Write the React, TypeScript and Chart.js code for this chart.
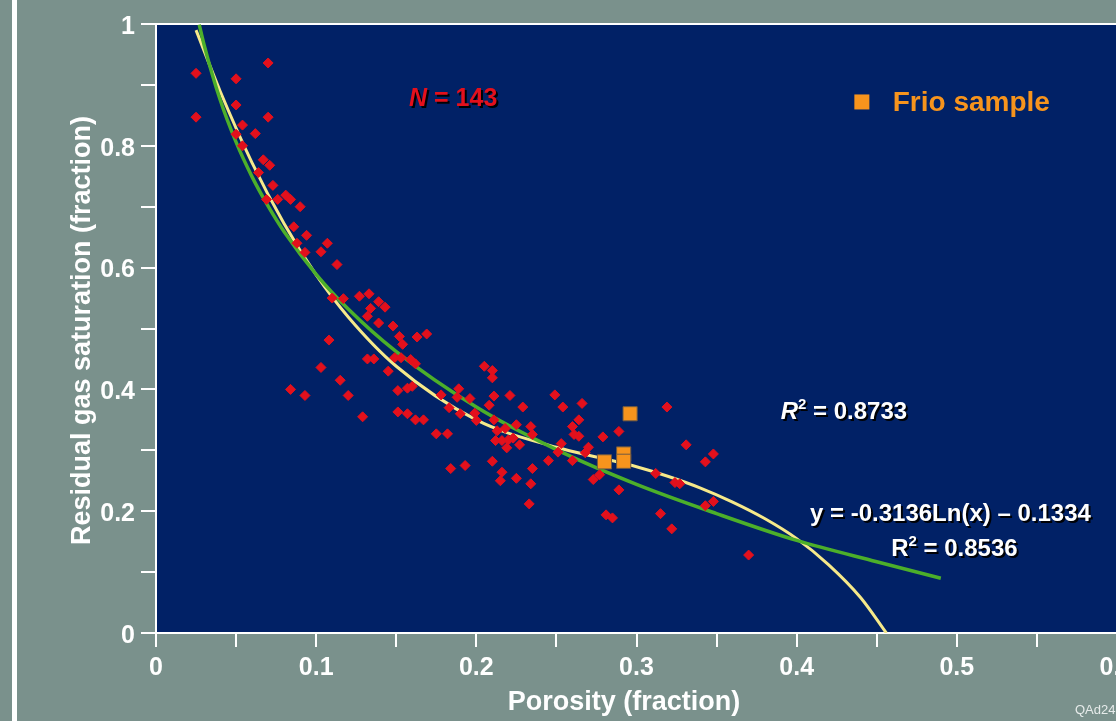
import React, { useEffect, useRef } from "react";
import { Chart, registerables } from "chart.js";

Chart.register(...registerables);

// Core-plug measurements (red diamonds)
const porosity = [
  0.025, 0.025, 0.070, 0.050, 0.050, 0.070, 0.054, 0.050, 0.062, 0.054,
  0.067, 0.071, 0.064, 0.073, 0.069, 0.076, 0.081, 0.084, 0.090, 0.086,
  0.094, 0.088, 0.093, 0.107, 0.103, 0.113, 0.110, 0.117, 0.127, 0.133,
  0.139, 0.143, 0.134, 0.132, 0.139, 0.148, 0.152, 0.154, 0.163, 0.169,
  0.108, 0.132, 0.136, 0.149, 0.153, 0.159, 0.162, 0.103, 0.145, 0.115,
  0.151, 0.157, 0.160, 0.084, 0.093, 0.120, 0.178, 0.151, 0.157, 0.162,
  0.167, 0.129, 0.183, 0.205, 0.210, 0.210, 0.189, 0.188, 0.196, 0.211,
  0.221, 0.229, 0.190, 0.199, 0.200, 0.208, 0.211, 0.225, 0.234, 0.235,
  0.213, 0.218, 0.212, 0.216, 0.220, 0.223, 0.219, 0.227, 0.175, 0.182,
  0.210, 0.184, 0.193, 0.216, 0.215, 0.225, 0.235, 0.234, 0.245, 0.233,
  0.249, 0.254, 0.266, 0.264, 0.260, 0.261, 0.264, 0.289, 0.279, 0.253,
  0.270, 0.251, 0.268, 0.260, 0.273, 0.277, 0.289, 0.281, 0.285, 0.319,
  0.331, 0.343, 0.348, 0.343, 0.348, 0.312, 0.324, 0.327, 0.315, 0.322, 0.370,
];
const gasSaturation = [
  0.919, 0.847, 0.936, 0.910, 0.867, 0.847, 0.834, 0.819, 0.820, 0.800,
  0.777, 0.768, 0.756, 0.735, 0.712, 0.712, 0.719, 0.712, 0.700, 0.667,
  0.653, 0.640, 0.625, 0.640, 0.626, 0.605, 0.550, 0.549, 0.553, 0.557,
  0.544, 0.535, 0.533, 0.520, 0.509, 0.504, 0.487, 0.474, 0.486, 0.491,
  0.481, 0.450, 0.450, 0.452, 0.452, 0.449, 0.442, 0.436, 0.430, 0.415,
  0.398, 0.402, 0.405, 0.400, 0.390, 0.390, 0.391, 0.363, 0.360, 0.350,
  0.350, 0.355, 0.370, 0.438, 0.431, 0.419, 0.401, 0.387, 0.385, 0.389,
  0.390, 0.371, 0.360, 0.361, 0.349, 0.374, 0.350, 0.342, 0.339, 0.326,
  0.332, 0.336, 0.316, 0.316, 0.317, 0.320, 0.304, 0.309, 0.327, 0.327,
  0.282, 0.270, 0.275, 0.264, 0.250, 0.254, 0.270, 0.245, 0.283, 0.212,
  0.391, 0.371, 0.377, 0.350, 0.339, 0.326, 0.323, 0.331, 0.322, 0.311,
  0.305, 0.297, 0.296, 0.283, 0.252, 0.260, 0.235, 0.194, 0.189, 0.371,
  0.309, 0.281, 0.294, 0.209, 0.216, 0.262, 0.247, 0.245, 0.196, 0.171, 0.128,
];

// Frio sample (orange squares)
const frioPorosity = [0.280, 0.292, 0.292, 0.296];
const frioSaturation = [0.281, 0.294, 0.282, 0.360];

// Log trend line (green), y = -0.3136 Ln(x) - 0.1334
const logFitX = [0.027, 0.03, 0.04, 0.05, 0.06, 0.07, 0.08, 0.1, 0.12, 0.15, 0.2, 0.25, 0.3, 0.35, 0.4, 0.45, 0.49];
const logFitY = [0.999, 0.966, 0.876, 0.806, 0.749, 0.701, 0.659, 0.589, 0.532, 0.462, 0.371, 0.301, 0.244, 0.196, 0.152, 0.117, 0.090];

// Polynomial trend line (yellow), R2 = 0.8733
const polyFitX = [0.025, 0.04, 0.06, 0.08, 0.1, 0.12, 0.15, 0.2, 0.25, 0.28, 0.3, 0.32, 0.34, 0.36, 0.38, 0.4, 0.42, 0.44, 0.456];
const polyFitY = [0.99, 0.890, 0.772, 0.672, 0.588, 0.519, 0.438, 0.350, 0.305, 0.286, 0.273, 0.257, 0.238, 0.215, 0.188, 0.155, 0.112, 0.058, 0.0];

const xTickLabels = ["0", "0.1", "0.2", "0.3", "0.4", "0.5", "0.6"];
const yTickLabels = ["0", "0.2", "0.4", "0.6", "0.8", "1"];

const xTitle = "Porosity (fraction)";
const yTitle = "Residual gas saturation (fraction)";
const legendLabel = "Frio sample";
const sampleCount = "143";
const polyR2 = "0.8733";
const logEquation = "y = -0.3136Ln(x) \u2013 0.1334";
const logR2 = "0.8536";
const figureId = "QAd2456";

const GRAY = "#7a918c";
const NAVY = "#012166";
const RED = "#e3101c";
const ORANGE = "#f7941d";
const FONT = "'Liberation Sans', Arial, sans-serif";

type Part = { text: string; font: string; dy?: number };

function drawParts(
  ctx: CanvasRenderingContext2D,
  parts: Part[],
  x: number,
  y: number,
  align: "left" | "center",
  color: string,
  shadow: boolean
) {
  ctx.save();
  ctx.textBaseline = "alphabetic";
  ctx.textAlign = "left";
  let total = 0;
  const widths = parts.map((p) => {
    ctx.font = p.font;
    const w = ctx.measureText(p.text).width;
    total += w;
    return w;
  });
  let cx = align === "center" ? x - total / 2 : x;
  parts.forEach((p, i) => {
    ctx.font = p.font;
    if (shadow) {
      ctx.fillStyle = "rgba(0,0,0,0.95)";
      ctx.fillText(p.text, cx + 2, y + (p.dy || 0) + 2);
    }
    ctx.fillStyle = color;
    ctx.fillText(p.text, cx, y + (p.dy || 0));
    cx += widths[i];
  });
  ctx.restore();
}

const decorPlugin = {
  id: "decor",
  beforeDraw(chart: any) {
    const { ctx, chartArea: a } = chart;
    ctx.save();
    ctx.fillStyle = GRAY;
    ctx.fillRect(0, 0, chart.width, chart.height);
    ctx.fillStyle = "#ffffff";
    ctx.fillRect(12, 0, 5, chart.height);
    ctx.fillStyle = NAVY;
    ctx.fillRect(a.left, a.top, a.right - a.left, a.bottom - a.top);
    ctx.restore();
  },
  beforeDatasetsDraw(chart: any) {
    const { ctx, chartArea: a } = chart;
    ctx.save();
    ctx.strokeStyle = "#ffffff";
    ctx.lineWidth = 2;
    ctx.beginPath();
    ctx.moveTo(a.left - 1, a.top);
    ctx.lineTo(a.right, a.top);
    ctx.stroke();
    ctx.restore();
  },
  afterDraw(chart: any) {
    const { ctx, chartArea: a } = chart;
    const xs = chart.scales.x;
    const ys = chart.scales.y;
    const px = (v: number) => xs.getPixelForValue(v);
    const py = (v: number) => ys.getPixelForValue(v);

    // axis titles
    ctx.save();
    ctx.fillStyle = "#ffffff";
    ctx.font = `bold 27px ${FONT}`;
    ctx.textAlign = "center";
    ctx.textBaseline = "middle";
    ctx.fillText(xTitle, a.left + 468, 703);
    ctx.translate(83, (a.top + a.bottom) / 2 + 2);
    ctx.rotate(-Math.PI / 2);
    ctx.fillText(yTitle, 0, 0);
    ctx.restore();

    // N = 143
    drawParts(
      ctx,
      [
        { text: "N", font: `italic bold 25px ${FONT}` },
        { text: " = " + sampleCount, font: `bold 25px ${FONT}` },
      ],
      px(0.158),
      py(0.8656),
      "left",
      RED,
      true
    );

    // Legend
    ctx.save();
    ctx.fillStyle = ORANGE;
    const lx = px(0.4407);
    const ly = py(0.872);
    ctx.fillRect(lx - 7.5, ly - 7.5, 15, 15);
    ctx.restore();
    drawParts(ctx, [{ text: legendLabel, font: `bold 28px ${FONT}` }], px(0.46), py(0.8574), "left", ORANGE, false);

    // R2 of polynomial
    drawParts(
      ctx,
      [
        { text: "R", font: `italic bold 24px ${FONT}` },
        { text: "2", font: `bold 15px ${FONT}`, dy: -10 },
        { text: " = " + polyR2, font: `bold 24px ${FONT}` },
      ],
      px(0.39),
      py(0.3515),
      "left",
      "#ffffff",
      true
    );

    // log equation
    drawParts(ctx, [{ text: logEquation, font: `bold 24px ${FONT}` }], px(0.496), py(0.1831), "center", "#ffffff", true);
    drawParts(
      ctx,
      [
        { text: "R", font: `bold 24px ${FONT}` },
        { text: "2", font: `bold 15px ${FONT}`, dy: -10 },
        { text: " = " + logR2, font: `bold 24px ${FONT}` },
      ],
      px(0.4985),
      py(0.1266),
      "center",
      "#ffffff",
      true
    );

    // figure id
    ctx.save();
    ctx.fillStyle = "#e6ebea";
    ctx.font = `13px ${FONT}`;
    ctx.textAlign = "left";
    ctx.textBaseline = "alphabetic";
    ctx.fillText(figureId, 1075, 714);
    ctx.restore();
  },
};

export default function App() {
  const canvasRef = useRef<HTMLCanvasElement | null>(null);

  useEffect(() => {
    const canvas = canvasRef.current;
    if (!canvas) return;

    const scatterData = porosity.map((x, i) => ({ x, y: gasSaturation[i] }));
    const frioData = frioPorosity.map((x, i) => ({ x, y: frioSaturation[i] }));
    const logData = logFitX.map((x, i) => ({ x, y: logFitY[i] }));
    const polyData = polyFitX.map((x, i) => ({ x, y: polyFitY[i] }));

    const tickFont = { family: FONT, weight: "bold" as const, size: 25 };

    const chart = new Chart(canvas, {
      type: "scatter",
      data: {
        datasets: [
          {
            label: "Frio sample",
            data: frioData,
            pointStyle: "rect",
            pointRadius: 10,
            pointBackgroundColor: ORANGE,
            pointBorderColor: "#6f5a44",
            pointBorderWidth: 1,
            order: 0,
          },
          {
            label: "Samples",
            data: scatterData,
            pointStyle: "rectRot",
            pointRadius: 5,
            pointBackgroundColor: RED,
            pointBorderColor: RED,
            pointBorderWidth: 1,
            order: 1,
          },
          {
            label: "Log fit",
            data: logData,
            showLine: true,
            pointRadius: 0,
            borderColor: "#4caf2a",
            borderWidth: 3.5,
            cubicInterpolationMode: "monotone",
            order: 2,
          },
          {
            label: "Polynomial fit",
            data: polyData,
            showLine: true,
            pointRadius: 0,
            borderColor: "#f6e98a",
            borderWidth: 3,
            cubicInterpolationMode: "monotone",
            order: 3,
          },
        ],
      },
      options: {
        responsive: false,
        animation: false,
        devicePixelRatio: 1,
        layout: { padding: { left: 0, right: 43, top: 24, bottom: 0 } },
        plugins: {
          legend: { display: false },
          tooltip: { enabled: false },
        },
        scales: {
          x: {
            type: "linear",
            min: 0,
            max: 0.6,
            afterFit: (scale: any) => {
              scale.height = 88;
            },
            ticks: {
              stepSize: 0.05,
              autoSkip: false,
              maxRotation: 0,
              color: "#ffffff",
              font: tickFont,
              padding: 6,
              callback: (v: any) => {
                const k = Math.round(Number(v) * 100);
                return k % 10 === 0 ? xTickLabels[k / 10] : "";
              },
            },
            grid: {
              drawOnChartArea: false,
              drawTicks: true,
              tickLength: 14,
              color: "#ffffff",
              lineWidth: 2,
            },
            border: { display: true, color: "#ffffff", width: 2 },
          },
          y: {
            type: "linear",
            min: 0,
            max: 1,
            afterFit: (scale: any) => {
              scale.width = 156;
            },
            ticks: {
              stepSize: 0.1,
              autoSkip: false,
              color: "#ffffff",
              font: tickFont,
              padding: 6,
              labelOffset: 3,
              callback: (v: any) => {
                const k = Math.round(Number(v) * 10);
                return k % 2 === 0 ? yTickLabels[k / 2] : "";
              },
            },
            grid: {
              drawOnChartArea: false,
              drawTicks: true,
              tickLength: 15,
              color: "#ffffff",
              lineWidth: 2,
            },
            border: { display: true, color: "#ffffff", width: 2 },
          },
        },
      },
      plugins: [decorPlugin],
    });

    return () => chart.destroy();
  }, []);

  return (
    <div
      style={{
        position: "fixed",
        left: 0,
        top: 0,
        width: 1116,
        height: 721,
        overflow: "hidden",
        background: GRAY,
      }}
    >
      <canvas
        ref={canvasRef}
        width={1160}
        height={721}
        style={{ display: "block", width: 1160, height: 721 }}
      />
    </div>
  );
}
